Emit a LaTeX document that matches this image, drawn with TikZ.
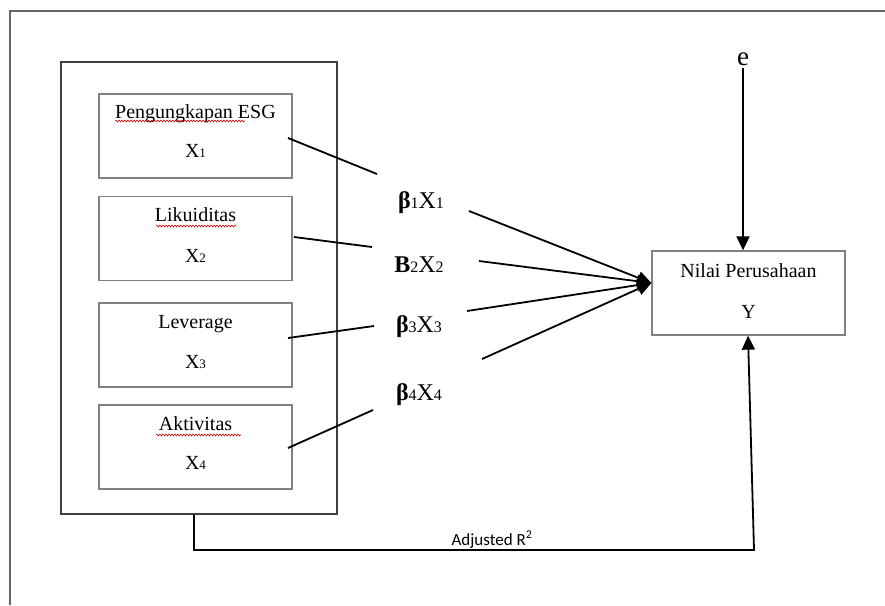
\documentclass[tikz,border=0pt]{standalone}
\usepackage{fontspec}
\setmainfont{Liberation Serif}
\newfontfamily\calib{Carlito}
\usetikzlibrary{arrows.meta,calc,decorations.pathmorphing}
\newcommand{\dg}[1]{{\fontsize{13}{13}\selectfont #1}}
\newcommand{\dgl}[1]{{\fontsize{16}{16}\selectfont #1}}
\begin{document}
\begin{tikzpicture}[x=1pt,y=-1pt,
  vbox/.style={draw=black!50,line width=1.3pt,minimum width=193pt,minimum height=84pt,inner sep=0pt},
  vtext/.style={anchor=base,inner sep=0pt,font=\fontsize{20}{22}\selectfont},
  bigbox/.style={draw=black!75,line width=1.8pt},
  conn/.style={line width=1.8pt,black},
  coef/.style={font=\fontsize{24}{26}\selectfont,inner sep=0pt},
  tip/.style={-{Triangle[length=14pt,width=13pt]}},
  squig/.style={draw=red!80!black,line width=0.6pt,decorate,decoration={snake,amplitude=0.9pt,segment length=3pt}}
]
\useasboundingbox (0,0) rectangle (885,605);
% outer frame
\draw[black!60,line width=1.8pt] (10,605) -- (10,11) -- (885,11);
% big box
\node[bigbox,minimum width=276pt,minimum height=452pt,inner sep=0pt] (big) at (199,288) {};
% variable boxes
\node[vbox] (b1) at (195.5,136) {};
\node[vbox] (b2) at (195.5,238.5) {};
\node[vbox] (b3) at (195.5,345) {};
\node[vbox] (b4) at (195.5,447) {};
\node[vbox] (y) at (748.5,293) {};
% box texts
\node[vtext] (b1a) at ($(b1.north)+(0,25)$) {Pengungkapan ESG};
\node[vtext] (b1b) at ($(b1.north)+(0,64)$) {X\dg{1}};
\node[vtext] (b2a) at ($(b2.north)+(0,26)$) {Likuiditas};
\node[vtext] (b2b) at ($(b2.north)+(0,67)$) {X\dg{2}};
\node[vtext] (b3a) at ($(b3.north)+(0,26)$) {Leverage};
\node[vtext] (b3b) at ($(b3.north)+(0,66)$) {X\dg{3}};
\node[vtext] (b4a) at ($(b4.north)+(0,26)$) {Aktivitas};
\node[vtext] (b4b) at ($(b4.north)+(0,65)$) {X\dg{4}};
\node[vtext] (ya) at ($(y.north)+(0,27)$) {Nilai Perusahaan};
\node[vtext] (yb) at ($(y.north)+(0,68)$) {Y};
% spell-check underlines
\draw[squig] (115,121) -- (245,121);
\draw[squig] (156,226) -- (236,226);
\draw[squig] (156,435) -- (241,435);
% error term
\node[font=\fontsize{27}{27}\selectfont,inner sep=2pt] (e) at (743,59) {e};
% coefficient labels
\node[coef] (k1) at (421,203) {\textbf{β}\dgl{1}X\dgl{1}};
\node[coef] (k2) at (419,265) {\textbf{B}\dgl{2}X\dgl{2}};
\node[coef] (k3) at (419,327) {\textbf{β}\dgl{3}X\dgl{3}};
\node[coef] (k4) at (419,395) {\textbf{β}\dgl{4}X\dgl{4}};
% connector end points
\coordinate (s1) at (288,138); \coordinate (t1) at (377,174);
\coordinate (s2) at (294,237); \coordinate (t2) at (372,247);
\coordinate (s3) at (288,338); \coordinate (t3) at (374,326);
\coordinate (s4) at (288,448); \coordinate (t4) at (373,410);
\coordinate (u1) at (469,211);
\coordinate (u2) at (479,261);
\coordinate (u3) at (467,311);
\coordinate (u4) at (482,359);
\coordinate (hit) at ($(y.west)+(0,-10)$);
\draw[conn] (s1) -- (t1);
\draw[conn] (s2) -- (t2);
\draw[conn] (s3) -- (t3);
\draw[conn] (s4) -- (t4);
\draw[conn,tip] (u1) -- (hit);
\draw[conn,tip] (u2) -- (hit);
\draw[conn,tip] (u3) -- (hit);
\draw[conn,tip] (u4) -- (hit);
% e arrow
\draw[conn,tip] (e.south) -- (e.south |- y.north);
% adjusted R2 path
\coordinate (r0) at (big.south -| 194,0);
\coordinate (r1) at (194,550);
\coordinate (r2) at (754,550);
\coordinate (r3) at (748,0);
\draw[conn,tip] (r0) -- (r1) -- (r2) -- (r3 |- y.south);
\node[font=\calib\fontsize{17}{17}\selectfont,anchor=base,inner sep=0pt] (adj) at (492,545) {Adjusted R\textsuperscript{2}};
\end{tikzpicture}
\end{document}
